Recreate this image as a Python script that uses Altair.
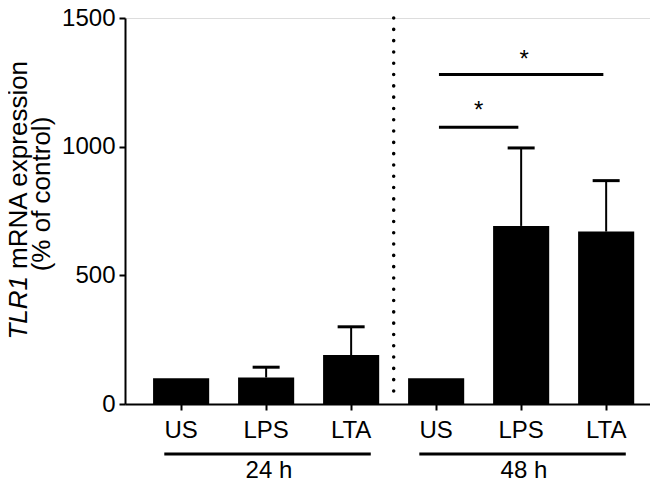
import altair as alt
import pandas as pd

# ---- data ----
keys = ["US 24 h", "LPS 24 h", "LTA 24 h", "US 48 h", "LPS 48 h", "LTA 48 h"]
treatments = ["US", "LPS", "LTA", "US", "LPS", "LTA"]
groups = ["24 h", "24 h", "24 h", "48 h", "48 h", "48 h"]
means = [100, 103, 190, 100, 692, 670]
errors = [0, 40, 110, 0, 303, 198]

group_names = ["24 h", "48 h"]
group_start = ["US 24 h", "US 48 h"]
group_end = ["LTA 24 h", "LTA 48 h"]
group_mid = ["LPS 24 h", "LPS 48 h"]

sig_from = ["US 48 h", "US 48 h"]
sig_to = ["LPS 48 h", "LTA 48 h"]
sig_y = [1075, 1280]
star_key = ["US 48 h", "LPS 48 h"]
star_y = [1110, 1311]

y_ticks = [0, 500, 1000, 1500]

FONT = "Liberation Sans"

df = pd.DataFrame({"key": keys, "treat": treatments, "group": groups,
                   "mean": means, "err": errors})
df["upper"] = df["mean"] + df["err"]

gdf = pd.DataFrame({"group": group_names, "start": group_start,
                    "end": group_end, "mid": group_mid})
sdf = pd.DataFrame({"from": sig_from, "to": sig_to, "y": sig_y})
stdf = pd.DataFrame({"k": star_key, "sy": star_y})

xscale = alt.Scale(domain=keys, paddingInner=0.34, paddingOuter=0.258, align=0.64)
yscale = alt.Scale(domain=[0, 1500], nice=False)

x_axis = alt.Axis(labelExpr="split(datum.label, ' ')[0]", labelAngle=0,
                  labelFontSize=24, labelFont=FONT, labelColor="black",
                  labelPadding=8, tickSize=6, tickWidth=2, tickColor="black",
                  domainColor="black", domainWidth=2, title=None)
y_axis = alt.Axis(values=y_ticks, format="d", labelFontSize=24, labelFont=FONT,
                  labelColor="black", labelPadding=4, tickSize=6, tickWidth=2,
                  tickColor="black", domainColor="black", domainWidth=2,
                  grid=False, title=None)


def X(field, **kw):
    return alt.X(field, scale=xscale, sort=None, axis=x_axis, title=None, **kw)


def Y(field):
    return alt.Y(field, scale=yscale, axis=y_axis, title=None)


base = alt.Chart(df)

bars = base.mark_bar(color="black").encode(x=X("key:N"), y=Y("mean:Q"))

err_rule = base.transform_filter("datum.err > 0").mark_rule(
    color="black", strokeWidth=2).encode(x=X("key:N"), y=Y("mean:Q"), y2="upper:Q")
err_cap = base.transform_filter("datum.err > 0").mark_tick(
    color="black", thickness=3, size=27, opacity=1).encode(x=X("key:N"), y=Y("upper:Q"))

divider = alt.Chart(pd.DataFrame({"k": ["LTA 24 h"], "top": [1500], "bot": [42]})).mark_rule(
    color="black", strokeWidth=3.5, strokeDash=[0.1, 11.2], strokeCap="round",
    xOffset=14.5).encode(x=X("k:N", bandPosition=1), y=Y("top:Q"), y2="bot:Q")

sig_lines = alt.Chart(sdf).mark_rule(color="black", strokeWidth=3).encode(
    x=X("from:N", bandPosition=0.55),
    x2=alt.X2("to", bandPosition=0.45),
    y=Y("y:Q"),
)
star_short = alt.Chart(stdf).transform_filter("datum.k == 'US 48 h'").mark_text(
    text="*", fontSize=24, font=FONT, color="black", baseline="alphabetic", dx=42.5).encode(
    x=X("k:N", bandPosition=0.5), y=Y("sy:Q"))
star_long = alt.Chart(stdf).transform_filter("datum.k == 'LPS 48 h'").mark_text(
    text="*", fontSize=24, font=FONT, color="black", baseline="alphabetic", dx=3).encode(
    x=X("k:N", bandPosition=0.5), y=Y("sy:Q"))

group_lines = alt.Chart(gdf).mark_rule(color="black", strokeWidth=3).encode(
    x=X("start:N", bandPosition=0.2),
    x2=alt.X2("end", bandPosition=0.85),
    y=alt.value(436),
)
group_text = alt.Chart(gdf).mark_text(
    fontSize=24, font=FONT, color="black", baseline="alphabetic").encode(
    x=X("mid:N", bandPosition=0.55),
    y=alt.value(460),
    text="group:N",
)

title_a = alt.Chart(pd.DataFrame({"t": ["TLR1"]})).mark_text(
    fontSize=26, font=FONT, fontStyle="italic", color="black", angle=270,
    align="right", baseline="alphabetic").encode(
    x=alt.value(-98), y=alt.value(258), text="t:N")
title_b = alt.Chart(pd.DataFrame({"t": ["mRNA expression"]})).mark_text(
    fontSize=26, font=FONT, color="black", angle=270,
    align="left", baseline="alphabetic").encode(
    x=alt.value(-98), y=alt.value(251), text="t:N")
title_c = alt.Chart(pd.DataFrame({"t": ["(% of control)"]})).mark_text(
    fontSize=26, font=FONT, color="black", angle=270,
    align="center", baseline="alphabetic").encode(
    x=alt.value(-75), y=alt.value(176), text="t:N")

chart = alt.layer(
    bars, err_rule, err_cap, divider, sig_lines, star_short, star_long,
    group_lines, group_text, title_a, title_b, title_c
).properties(
    width=525, height=386,
    autosize=alt.AutoSizeParams(type="none"),
    padding={"left": 117, "top": 10, "right": 0, "bottom": 78},
).configure_view(stroke=None).configure(background="white")

chart.save("out.html", embed_options={"renderer": "svg", "actions": False})
